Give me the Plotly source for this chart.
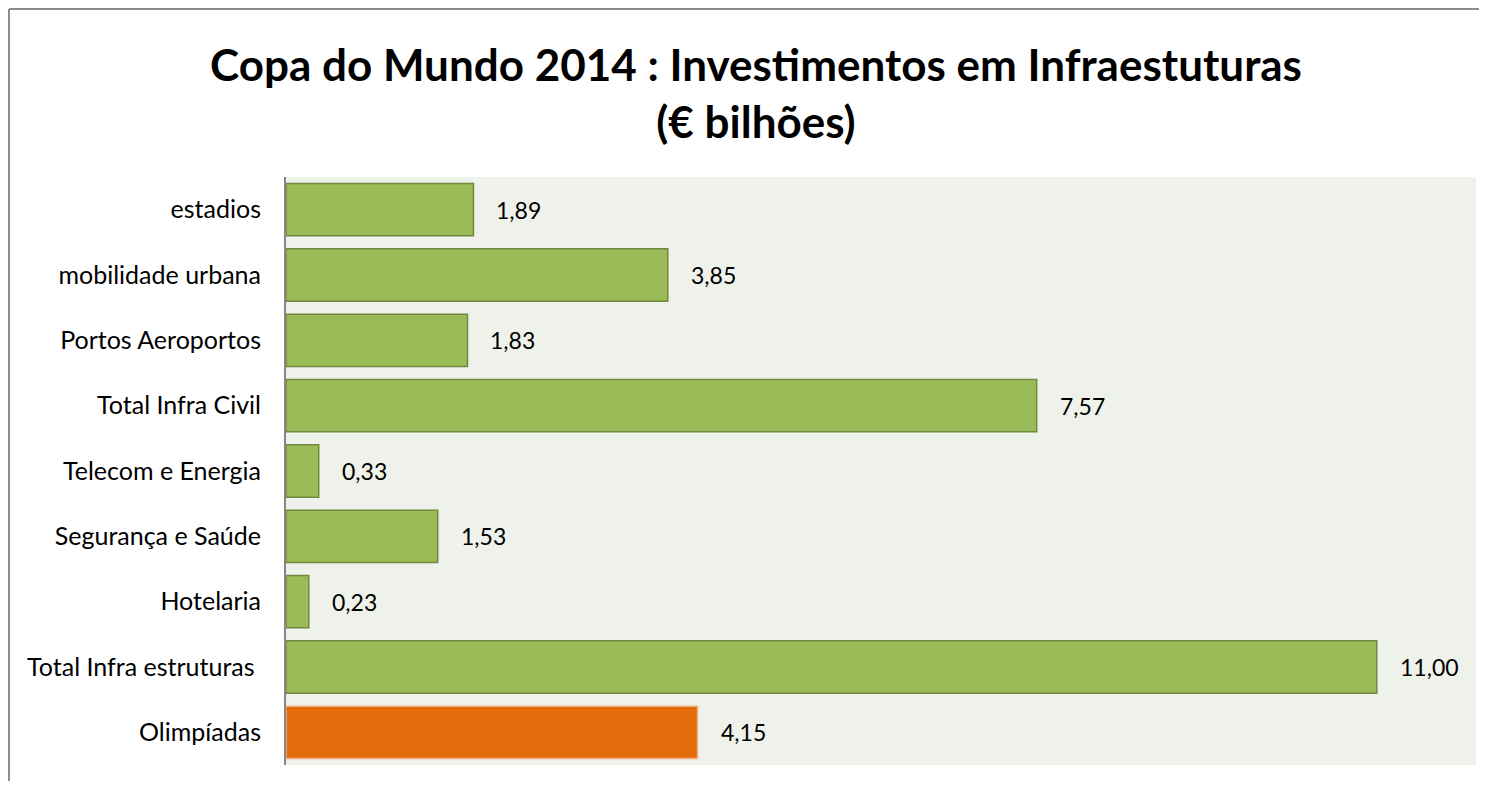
import plotly.graph_objects as go

categories = ["estadios", "mobilidade urbana", "Portos Aeroportos", "Total Infra Civil",
              "Telecom e Energia", "Segurança e Saúde", "Hotelaria",
              "Total Infra estruturas ", "Olimpíadas"]
values = [1.89, 3.85, 1.83, 7.57, 0.33, 1.53, 0.23, 11.00, 4.15]
labels = ["1,89", "3,85", "1,83", "7,57", "0,33", "1,53", "0,23", "11,00", "4,15"]
colors = ["#9BBB59"] * 8 + ["#E46C0A"]
line_colors = ["#71893F"] * 8 + ["#F4B183"]

# page body adds an 8px margin, so the figure is sized to the remaining area
W, H = 1471, 773
L, R, T, B = 278, 3, 169, 16
pw, ph = W - L - R, H - T - B

fig = go.Figure(go.Bar(
    x=values, y=categories, orientation="h",
    marker=dict(color=colors, line=dict(color=line_colors, width=1.5)),
    width=0.8, hoverinfo="skip",
))

for v, c, t in zip(values, categories, labels):
    fig.add_annotation(x=v, y=c, text=t, showarrow=False, xanchor="left",
                       xshift=21, font=dict(size=23, color="#000000"))

fig.update_layout(
    width=W, height=H,
    margin=dict(l=L, r=R, t=T, b=B),
    paper_bgcolor="white", plot_bgcolor="#EFF2EA",
    font=dict(family="Lato, Open Sans, sans-serif", size=25, color="#000000"),
    title=dict(text="<b>Copa do Mundo 2014 : Investimentos em Infraestuturas<br>(€ bilhões)</b>",
               x=748 / W, xanchor="center", y=1 - 73 / H, yanchor="middle",
               font=dict(size=44, family="Lato, Open Sans, sans-serif", color="#000000")),
    xaxis=dict(range=[0, 12], visible=False, showgrid=False, zeroline=False, fixedrange=True),
    yaxis=dict(autorange="reversed", showline=True, linecolor="#868686", linewidth=2,
               ticks="", showgrid=False, ticklabelstandoff=18,
               tickfont=dict(size=25)),
    showlegend=False,
    shapes=[
        dict(type="line", xref="paper", yref="paper",
             x0=(1 - L) / pw, x1=(W + 5 - L) / pw,
             y0=(H - B - 1) / ph, y1=(H - B - 1) / ph,
             line=dict(color="#8C8C8C", width=2)),
        dict(type="line", xref="paper", yref="paper",
             x0=(1 - L) / pw, x1=(1 - L) / pw,
             y0=(H - B - 1) / ph, y1=-0.2,
             line=dict(color="#8C8C8C", width=2)),
    ],
)

fig.write_html("out.html")
